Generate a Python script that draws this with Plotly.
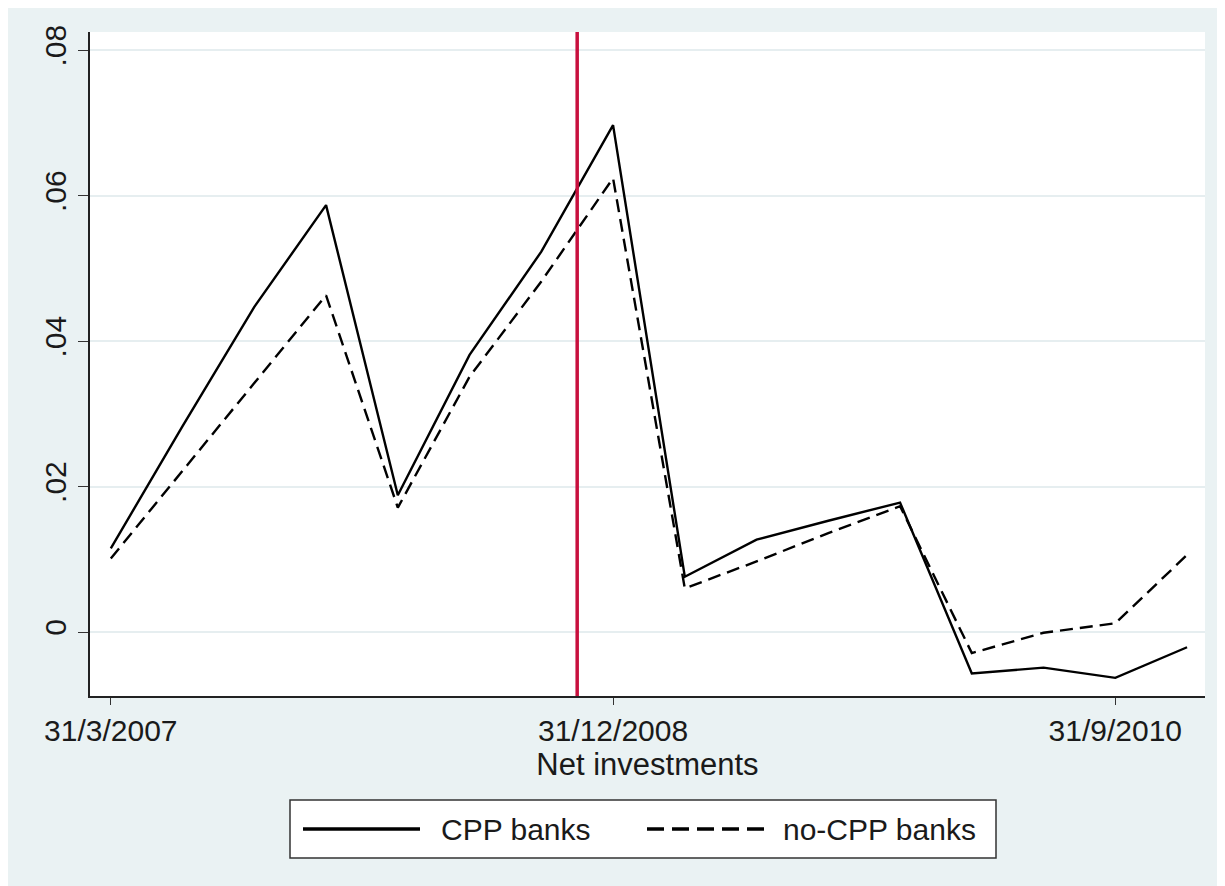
import plotly.graph_objects as go

# ---- data ----
quarters = ["31/3/2007", "31/6/2007", "31/9/2007", "31/12/2007",
            "31/3/2008", "31/6/2008", "31/9/2008", "31/12/2008",
            "31/3/2009", "31/6/2009", "31/9/2009", "31/12/2009",
            "31/3/2010", "31/6/2010", "31/9/2010", "31/12/2010"]
cpp_banks = [0.0115, 0.0283, 0.0447, 0.0587, 0.0188, 0.0381, 0.0523, 0.0697,
             0.0076, 0.0127, 0.0153, 0.0178, -0.0057, -0.0049, -0.0063, -0.0021]
no_cpp_banks = [0.0101, 0.0222, 0.0342, 0.0463, 0.0171, 0.0351, 0.0482, 0.0624,
                0.0060, 0.0097, 0.0136, 0.0173, -0.0029, -0.0001, 0.0012, 0.0106]
x_tick_labels = ["31/3/2007", "31/12/2008", "31/9/2010"]
y_tick_values = [0, 0.02, 0.04, 0.06, 0.08]
y_tick_labels = ["0", ".02", ".04", ".06", ".08"]
series_names = ["CPP banks", "no-CPP banks"]
x_title = "Net investments"
event_position = 6.5  # CPP introduction, between 30/9/2008 and 31/12/2008

# ---- style ----
W, H = 1225, 886
OFF = 8  # page body margin
ML, MR, MT, MB = 82, 28, 24, 198
BG = "#EAF2F3"
FONT = "Liberation Sans, Arial, sans-serif"
TXT = "#1a1a1a"
FS = 30

fig = go.Figure()
fig.add_trace(go.Scatter(x=quarters, y=cpp_banks, mode="lines", name=series_names[0],
                         line=dict(color="black", width=2.4), showlegend=False))
fig.add_trace(go.Scatter(x=quarters, y=no_cpp_banks, mode="lines", name=series_names[1],
                         line=dict(color="black", width=2.4, dash="13px,7px"), showlegend=False))

fig.add_shape(type="line", xref="x", yref="paper", x0=event_position, x1=event_position,
              y0=0, y1=1, line=dict(color="#C8103E", width=3.5))

# custom legend (screen pixel -> paper helper)
pw, ph = W - ML - MR, H - MT - MB
def px(x):
    return (x - OFF - ML) / pw
def py(y):
    return (H - MB + OFF - y) / ph

fig.add_shape(type="rect", xref="paper", yref="paper", x0=px(290), x1=px(996),
              y0=py(858), y1=py(800), fillcolor="white", line=dict(color="#333333", width=1.5),
              layer="above")
fig.add_shape(type="line", xref="paper", yref="paper", x0=px(303), x1=px(420),
              y0=py(829), y1=py(829), line=dict(color="black", width=3.5))
fig.add_shape(type="line", xref="paper", yref="paper", x0=px(647), x1=px(765),
              y0=py(829), y1=py(829), line=dict(color="black", width=3.5, dash="17px,8px"))
fig.add_annotation(xref="paper", yref="paper", x=px(439), y=py(829), text=series_names[0],
                   showarrow=False, xanchor="left", yanchor="middle",
                   font=dict(family=FONT, size=FS, color=TXT))
fig.add_annotation(xref="paper", yref="paper", x=px(781), y=py(829), text=series_names[1],
                   showarrow=False, xanchor="left", yanchor="middle",
                   font=dict(family=FONT, size=FS, color=TXT))

fig.update_layout(
    width=W, height=H,
    margin=dict(l=ML, r=MR, t=MT, b=MB),
    paper_bgcolor=BG, plot_bgcolor="white",
    font=dict(family=FONT, size=FS, color=TXT),
    showlegend=False,
)
fig.update_xaxes(
    type="category", categoryorder="array", categoryarray=quarters,
    range=[-0.29, 15.25],
    tickmode="array", tickvals=x_tick_labels, ticktext=x_tick_labels,
    ticks="outside", ticklen=7, tickwidth=1.2, tickcolor="#333333",
    showgrid=False, zeroline=False,
    showline=True, linecolor="#222222", linewidth=1.6,
    tickfont=dict(family=FONT, size=FS, color=TXT),
    title=dict(text=x_title, standoff=8, font=dict(family=FONT, size=31, color=TXT)),
)
fig.update_yaxes(
    range=[-0.0088, 0.0825],
    tickmode="array", tickvals=y_tick_values, ticktext=y_tick_labels,
    tickangle=-90,
    ticks="outside", ticklen=10, tickwidth=1.2, tickcolor="#333333",
    showgrid=True, gridcolor="#E6EEF0", gridwidth=2,
    zeroline=False,
    showline=True, linecolor="#222222", linewidth=1.6,
    tickfont=dict(family=FONT, size=FS, color=TXT),
)

fig.write_html("out.html")
